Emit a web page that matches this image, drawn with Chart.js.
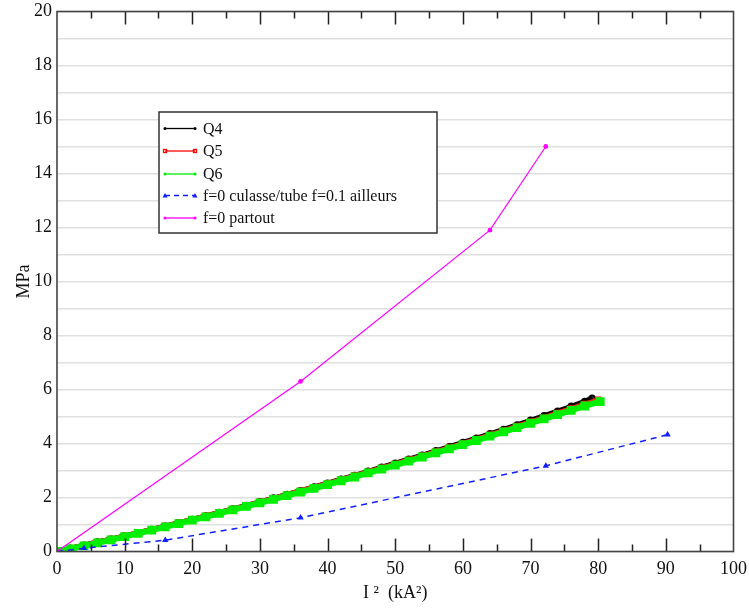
<!DOCTYPE html>
<html><head><meta charset="utf-8">
<script src="https://cdn.jsdelivr.net/npm/chart.js@4"></script>
<style>html,body{margin:0;padding:0;background:#fff}</style>
</head><body>
<canvas id="c" width="749" height="610"></canvas>
<script>
// ---- data ----
const q4X = [0,2,4,6,8,10,12,14,16,18,20,22,24,26,28,30,32,34,36,38,40,42,44,46,48,50,52,54,56,58,60,62,64,66,68,70,72,74,76,78,79.1];
const q4Y = [0,0.12,0.23,0.35,0.46,0.58,0.70,0.82,0.94,1.07,1.19,1.32,1.45,1.58,1.71,1.84,1.98,2.11,2.25,2.39,2.53,2.68,2.82,2.97,3.12,3.27,3.42,3.57,3.73,3.88,4.04,4.20,4.36,4.52,4.69,4.86,5.03,5.20,5.38,5.56,5.68];
const q5X = [0,2,4,6,8,10,12,14,16,18,20,22,24,26,28,30,32,34,36,38,40,42,44,46,48,50,52,54,56,58,60,62,64,66,68,70,72,74,76,78,80];
const q5Y = [0,0.12,0.23,0.35,0.46,0.58,0.70,0.82,0.94,1.07,1.19,1.32,1.45,1.57,1.70,1.84,1.97,2.11,2.25,2.38,2.52,2.66,2.81,2.95,3.10,3.24,3.39,3.54,3.70,3.85,4.00,4.16,4.32,4.48,4.64,4.80,4.96,5.13,5.29,5.46,5.62];
const q6X = [0,2,4,6,8,10,12,14,16,18,20,22,24,26,28,30,32,34,36,38,40,42,44,46,48,50,52,54,56,58,60,62,64,66,68,70,72,74,76,78,80.3];
const q6Y = [0,0.10,0.21,0.32,0.43,0.55,0.67,0.79,0.91,1.03,1.16,1.28,1.41,1.54,1.67,1.80,1.93,2.07,2.20,2.34,2.48,2.62,2.76,2.91,3.05,3.20,3.35,3.50,3.65,3.80,3.96,4.11,4.27,4.43,4.59,4.75,4.91,5.07,5.23,5.39,5.55];
const blueX = [0,4,16,36,72.25,90.25];
const blueY = [0,0.12,0.42,1.25,3.17,4.33];
const magX = [0,36,64,72.25];
const magY = [0,6.3,11.9,15.0];
const seriesLabels = ['Q4','Q5','Q6','f=0 culasse/tube f=0.1 ailleurs','f=0 partout'];
const xTitle = 'I ²  (kA²)';
const yTitle = 'MPa';

const pts = (xs, ys) => xs.map((x, i) => ({x: x, y: ys[i]}));
const SERIF = '"Liberation Serif", "DejaVu Serif", serif';

const legendSpec = [
  {color:'#000000', dash:[], style:'circle'},
  {color:'#ff0000', dash:[], style:'rect'},
  {color:'#00ee00', dash:[], style:'circle'},
  {color:'#1020ff', dash:[5,4], style:'triangle'},
  {color:'#ff00ff', dash:[], style:'circle'}
];

const framePlugin = {
  id: 'frame',
  afterDraw(chart) {
    const ctx = chart.ctx;
    const a = chart.chartArea;
    const xs = chart.scales.x;
    ctx.save();
    ctx.strokeStyle = '#222';
    ctx.lineWidth = 1.5;
    for (let v = 5; v < 100; v += 5) {
      const px = Math.round(xs.getPixelForValue(v)) + 0.5;
      const len = (v % 10 === 0) ? 13 : 7;
      ctx.beginPath();
      ctx.moveTo(px, a.bottom); ctx.lineTo(px, a.bottom - len);
      ctx.moveTo(px, a.top); ctx.lineTo(px, a.top + len);
      ctx.stroke();
    }
    ctx.strokeStyle = '#444';
    ctx.lineWidth = 1.6;
    ctx.strokeRect(a.left, a.top, a.right - a.left, a.bottom - a.top);
    const lx = a.left + 102, ly = a.top + 100.5, lw = 278, lh = 121;
    ctx.fillStyle = '#fff';
    ctx.fillRect(lx, ly, lw, lh);
    ctx.strokeStyle = '#333';
    ctx.lineWidth = 1.5;
    ctx.strokeRect(lx, ly, lw, lh);
    ctx.font = '16px ' + SERIF;
    ctx.textBaseline = 'middle';
    const rows = [16.5, 39, 62, 83.5, 106];
    legendSpec.forEach((s, i) => {
      const yy = ly + rows[i];
      ctx.strokeStyle = s.color;
      ctx.fillStyle = s.color;
      ctx.lineWidth = 1.3;
      ctx.setLineDash(s.dash);
      ctx.beginPath();
      ctx.moveTo(lx + 6, yy); ctx.lineTo(lx + 36, yy);
      ctx.stroke();
      ctx.setLineDash([]);
      [lx + 6, lx + 36].forEach(mx => {
        ctx.beginPath();
        if (s.style === 'rect') { ctx.strokeRect(mx - 1.5, yy - 1.5, 3, 3); }
        else if (s.style === 'triangle') { ctx.moveTo(mx, yy - 2.5); ctx.lineTo(mx + 2.5, yy + 2); ctx.lineTo(mx - 2.5, yy + 2); ctx.closePath(); ctx.fill(); }
        else { ctx.arc(mx, yy, 1.5, 0, Math.PI * 2); ctx.fill(); }
      });
      ctx.fillStyle = '#111';
      ctx.fillText(seriesLabels[i], lx + 44, yy + 1);
    });
    ctx.restore();
  }
};

new Chart(document.getElementById('c'), {
  type: 'line',
  data: {
    datasets: [
      {label: seriesLabels[4], data: pts(magX, magY), borderColor:'#ff00ff', backgroundColor:'#ff00ff', borderWidth:1.2, pointRadius:1.8, pointStyle:'circle', order:0},
      {label: seriesLabels[3], data: pts(blueX, blueY), borderColor:'#1020ff', backgroundColor:'#1020ff', borderWidth:1.5, borderDash:[6,5], pointRadius:2.2, pointStyle:'triangle', order:1},
      {label: seriesLabels[2], data: pts(q6X, q6Y), borderColor:'#00ee00', backgroundColor:'#00ee00', borderWidth:6, pointRadius:2, pointStyle:'rect', order:2},
      {label: seriesLabels[1], data: pts(q5X, q5Y), borderColor:'#ff2020', backgroundColor:'#ff2020', borderWidth:5, pointRadius:1.2, pointStyle:'rect', order:3},
      {label: seriesLabels[0], data: pts(q4X, q4Y), borderColor:'#000000', backgroundColor:'#000000', borderWidth:5, pointRadius:1.2, order:4}
    ]
  },
  options: {
    responsive: false,
    animation: false,
    devicePixelRatio: 1,
    layout: {padding: {top: 11.5, right: 15.5, left: 0, bottom: 0}},
    plugins: {legend: {display: false}, tooltip: {enabled: false}},
    elements: {line: {tension: 0}},
    scales: {
      x: {
        type: 'linear', min: 0, max: 100,
        afterFit: s => { s.height = 58.5; s.paddingLeft = 0; s.paddingRight = 0; },
        grid: {display: false, drawTicks: false},
        border: {display: false},
        ticks: {stepSize: 10, padding: 7, color: '#111', font: {family: SERIF, size: 18}, maxRotation: 0},
        title: {display: true, text: xTitle, color: '#111', font: {family: SERIF, size: 18}, padding: {top: 0, bottom: 6}}
      },
      y: {
        type: 'linear', min: 0, max: 20,
        afterFit: s => { s.width = 57; s.paddingTop = 0; s.paddingBottom = 0; },
        grid: {color: '#e0e0e0', lineWidth: 1.5, drawTicks: false},
        border: {display: false},
        ticks: {stepSize: 1, padding: 5, color: '#111', font: {family: SERIF, size: 18},
                callback: v => (v % 2 === 0 ? v : '')},
        title: {display: true, text: yTitle, color: '#111', font: {family: SERIF, size: 18}, padding: {top: 13, bottom: 0}}
      }
    }
  },
  plugins: [framePlugin]
});
</script>
</body></html>
